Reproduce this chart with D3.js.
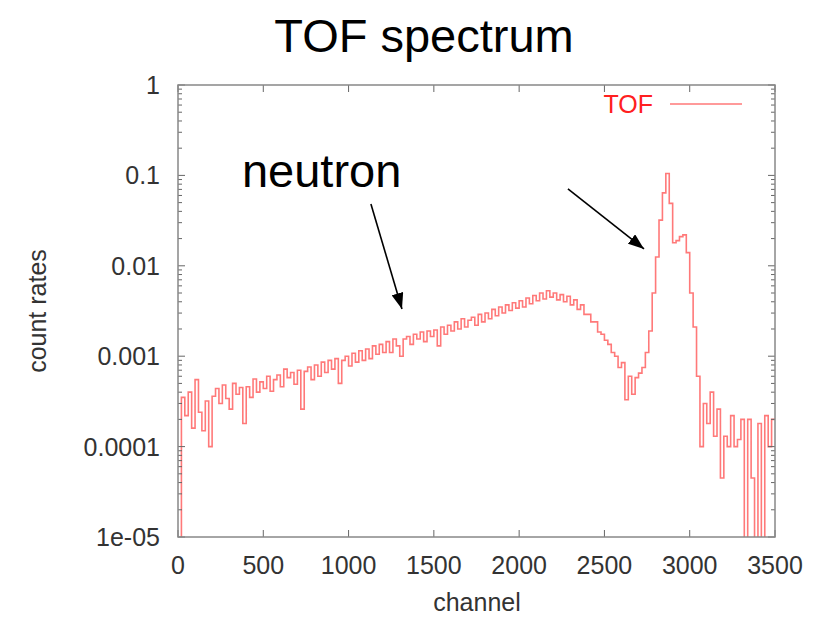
<!DOCTYPE html>
<html>
<head>
<meta charset="utf-8">
<script src="https://cdn.jsdelivr.net/npm/d3@7"></script>
<style>
  body { margin: 0; background: #fff; }
  svg { display: block; font-family: "Liberation Sans", Arial, sans-serif; }
</style>
</head>
<body>
<svg id="chart" width="814" height="618"></svg>
<script>
// TOF histogram, 20-channel bins starting at channel 0 (0 = empty bin)
let binWidth = 20
let counts = [
    0, 3.5e-4, 2.2e-4, 4.0e-4, 1.6e-4,
    5.5e-4, 2.4e-4, 1.5e-4, 3.2e-4, 1.0e-4,
    3.6e-4, 4.4e-4, 3.0e-4, 4.8e-4, 3.4e-4,
    2.6e-4, 5.0e-4, 3.8e-4, 4.5e-4, 1.8e-4,
    4.6e-4, 3.5e-4, 5.6e-4, 4.0e-4, 5.2e-4,
    4.4e-4, 6.0e-4, 4.1e-4, 5.5e-4, 6.2e-4,
    4.6e-4, 7.2e-4, 5.8e-4, 6.6e-4, 4.9e-4,
    7.0e-4, 2.6e-4, 6.8e-4, 7.6e-4, 5.5e-4,
    8.0e-4, 6.0e-4, 8.6e-4, 6.6e-4, 9.0e-4,
    7.2e-4, 9.4e-4, 5.0e-4, 9.0e-4, 1.0e-3,
    7.8e-4, 1.08e-3, 8.6e-4, 1.15e-3, 9.0e-4,
    1.2e-3, 9.4e-4, 1.3e-3, 1.05e-3, 1.35e-3,
    1.1e-3, 1.45e-3, 1.1e-3, 1.55e-3, 1.3e-3,
    1.0e-3, 1.55e-3, 1.65e-3, 1.35e-3, 1.75e-3,
    1.55e-3, 1.85e-3, 1.45e-3, 1.9e-3, 1.65e-3,
    1.95e-3, 1.3e-3, 2.1e-3, 1.75e-3, 2.2e-3,
    1.9e-3, 2.4e-3, 2.0e-3, 2.6e-3, 2.1e-3,
    2.5e-3, 2.7e-3, 2.2e-3, 2.9e-3, 2.4e-3,
    3.0e-3, 2.6e-3, 3.3e-3, 2.8e-3, 3.5e-3,
    3.0e-3, 3.7e-3, 3.2e-3, 3.9e-3, 3.4e-3,
    4.1e-3, 3.5e-3, 4.4e-3, 3.8e-3, 4.7e-3,
    4.1e-3, 5.0e-3, 4.3e-3, 5.3e-3, 4.5e-3,
    5.0e-3, 4.2e-3, 4.8e-3, 4.0e-3, 4.6e-3,
    3.7e-3, 4.2e-3, 3.3e-3, 3.7e-3, 2.9e-3,
    2.9e-3, 2.4e-3, 2.4e-3, 1.85e-3, 1.75e-3,
    1.5e-3, 1.35e-3, 1.1e-3, 1.0e-3, 7.5e-4,
    8.5e-4, 3.3e-4, 6.0e-4, 3.8e-4, 5.8e-4,
    6.5e-4, 7.5e-4, 1.1e-3, 1.9e-3, 5.0e-3,
    1.25e-2, 3.2e-2, 6.4e-2, 1.05e-1, 4.9e-2,
    1.8e-2, 1.9e-2, 2.1e-2, 2.2e-2, 1.4e-2,
    5.0e-3, 2.1e-3, 6.0e-4, 1.0e-4, 3.0e-4,
    1.8e-4, 4.0e-4, 1.3e-4, 2.6e-4, 4.5e-5,
    1.3e-4, 1.0e-4, 2.2e-4, 1.0e-4, 1.2e-4,
    2.0e-4, 0, 2.0e-4, 4.5e-5, 0,
    1.8e-4, 0, 2.2e-4, 1.0e-4, 2.0e-4
]

let xTicks = [0, 500, 1000, 1500, 2000, 2500, 3000, 3500]
let yTicks = [1, 0.1, 0.01, 0.001, 0.0001, 0.00001]
let yTickLabels = ["1", "0.1", "0.01", "0.001", "0.0001", "1e-05"]

// annotation arrows in data coords: [fromChannel, fromRate, toChannel, toRate]
let arrows = [
    [1131, 0.0483, 1313, 0.00333],
    [2286, 0.0708, 2732, 0.01535]
]


let chart = d3.select("#chart")

let plotLeft = 178, plotRight = 775, plotTop = 85, plotBottom = 537

let xscale = d3.scaleLinear()
    .domain([0, 3500])
    .range([plotLeft, plotRight])

let yscale = d3.scaleLog()
    .domain([1e-5, 1])
    .range([plotBottom, plotTop])

let points = counts.map((c, i) => [i * binWidth, c])
points.push([counts.length * binWidth, counts[counts.length - 1]])

let defs = chart.append("defs")
defs.append("clipPath").attr("id", "plotclip")
    .append("rect")
    .attr("x", plotLeft).attr("y", plotTop)
    .attr("width", plotRight - plotLeft).attr("height", plotBottom - plotTop)

// title
chart.append("text")
    .attr("x", 424).attr("y", 52)
    .attr("text-anchor", "middle")
    .style("font-size", "47px")
    .text("TOF spectrum")

// curve
let line = d3.line()
    .x(d => xscale(d[0]))
    .y(d => yscale(Math.max(d[1], 9e-6)))
    .curve(d3.curveStepAfter)

chart.append("path")
    .datum(points)
    .attr("clip-path", "url(#plotclip)")
    .attr("fill", "none")
    .attr("stroke", "#ff4040")
    .attr("stroke-opacity", 0.7)
    .attr("stroke-width", 1.6)
    .attr("d", line)

// axes, gnuplot style: ticks inward, mirrored
let axisColor = "#666"

let minor = []
for (let e = -5; e < 0; e++)
    for (let m = 2; m <= 9; m++) minor.push(m * Math.pow(10, e))

let g = chart.append("g")
    .attr("stroke", axisColor).attr("stroke-width", 1)

g.selectAll("line.xt").data(xTicks).enter().append("line")
    .attr("x1", d => xscale(d)).attr("x2", d => xscale(d))
    .attr("y1", plotBottom).attr("y2", plotBottom - 7)
g.selectAll("line.xtt").data(xTicks).enter().append("line")
    .attr("x1", d => xscale(d)).attr("x2", d => xscale(d))
    .attr("y1", plotTop).attr("y2", plotTop + 7)

g.selectAll("line.yt").data(yTicks).enter().append("line")
    .attr("x1", plotLeft).attr("x2", plotLeft + 7)
    .attr("y1", d => yscale(d)).attr("y2", d => yscale(d))
g.selectAll("line.ytr").data(yTicks).enter().append("line")
    .attr("x1", plotRight).attr("x2", plotRight - 7)
    .attr("y1", d => yscale(d)).attr("y2", d => yscale(d))
g.selectAll("line.ym").data(minor).enter().append("line")
    .attr("x1", plotLeft).attr("x2", plotLeft + 4)
    .attr("y1", d => yscale(d)).attr("y2", d => yscale(d))
g.selectAll("line.ymr").data(minor).enter().append("line")
    .attr("x1", plotRight).attr("x2", plotRight - 4)
    .attr("y1", d => yscale(d)).attr("y2", d => yscale(d))

chart.append("rect")
    .attr("x", plotLeft).attr("y", plotTop)
    .attr("width", plotRight - plotLeft).attr("height", plotBottom - plotTop)
    .attr("fill", "none")
    .attr("stroke", "#888")
    .attr("stroke-width", 1.5)

// tick labels
chart.selectAll("text.xl").data(xTicks).enter().append("text")
    .attr("x", d => xscale(d)).attr("y", 574)
    .attr("text-anchor", "middle")
    .style("font-size", "25px").style("fill", "#333")
    .text(d => d)

chart.selectAll("text.yl").data(yTicks).enter().append("text")
    .attr("x", 160).attr("y", d => yscale(d))
    .attr("dy", "0.36em")
    .attr("text-anchor", "end")
    .style("font-size", "25px").style("fill", "#333")
    .text((d, i) => yTickLabels[i])

chart.append("text")
    .attr("x", 477).attr("y", 611)
    .attr("text-anchor", "middle")
    .style("font-size", "25px").style("fill", "#333")
    .text("channel")

chart.append("text")
    .attr("transform", "translate(46,311) rotate(-90)")
    .attr("text-anchor", "middle")
    .style("font-size", "25px").style("fill", "#333")
    .text("count rates")

// legend
chart.append("text")
    .attr("x", 653).attr("y", 113)
    .attr("text-anchor", "end")
    .style("font-size", "25px").style("fill", "#ff2020")
    .text("TOF")
chart.append("line")
    .attr("x1", 670).attr("x2", 742)
    .attr("y1", 104).attr("y2", 104)
    .attr("stroke", "#ff4040").attr("stroke-opacity", 0.7).attr("stroke-width", 1.6)

// annotation
chart.append("text")
    .attr("x", xscale(375)).attr("y", yscale(0.0745))
    .style("font-size", "47px")
    .text("neutron")

defs.append("marker")
    .attr("id", "head")
    .attr("markerUnits", "userSpaceOnUse")
    .attr("viewBox", "0 0 16 12")
    .attr("refX", 16).attr("refY", 6)
    .attr("markerWidth", 16).attr("markerHeight", 12)
    .attr("orient", "auto")
    .append("path")
    .attr("d", "M0,0 L16,6 L0,12 Z")
    .attr("fill", "#000")

chart.selectAll("line.arrow").data(arrows).enter().append("line")
    .attr("x1", d => xscale(d[0])).attr("y1", d => yscale(d[1]))
    .attr("x2", d => xscale(d[2])).attr("y2", d => yscale(d[3]))
    .attr("stroke", "#000").attr("stroke-width", 1.6)
    .attr("marker-end", "url(#head)")
</script>
</body>
</html>
